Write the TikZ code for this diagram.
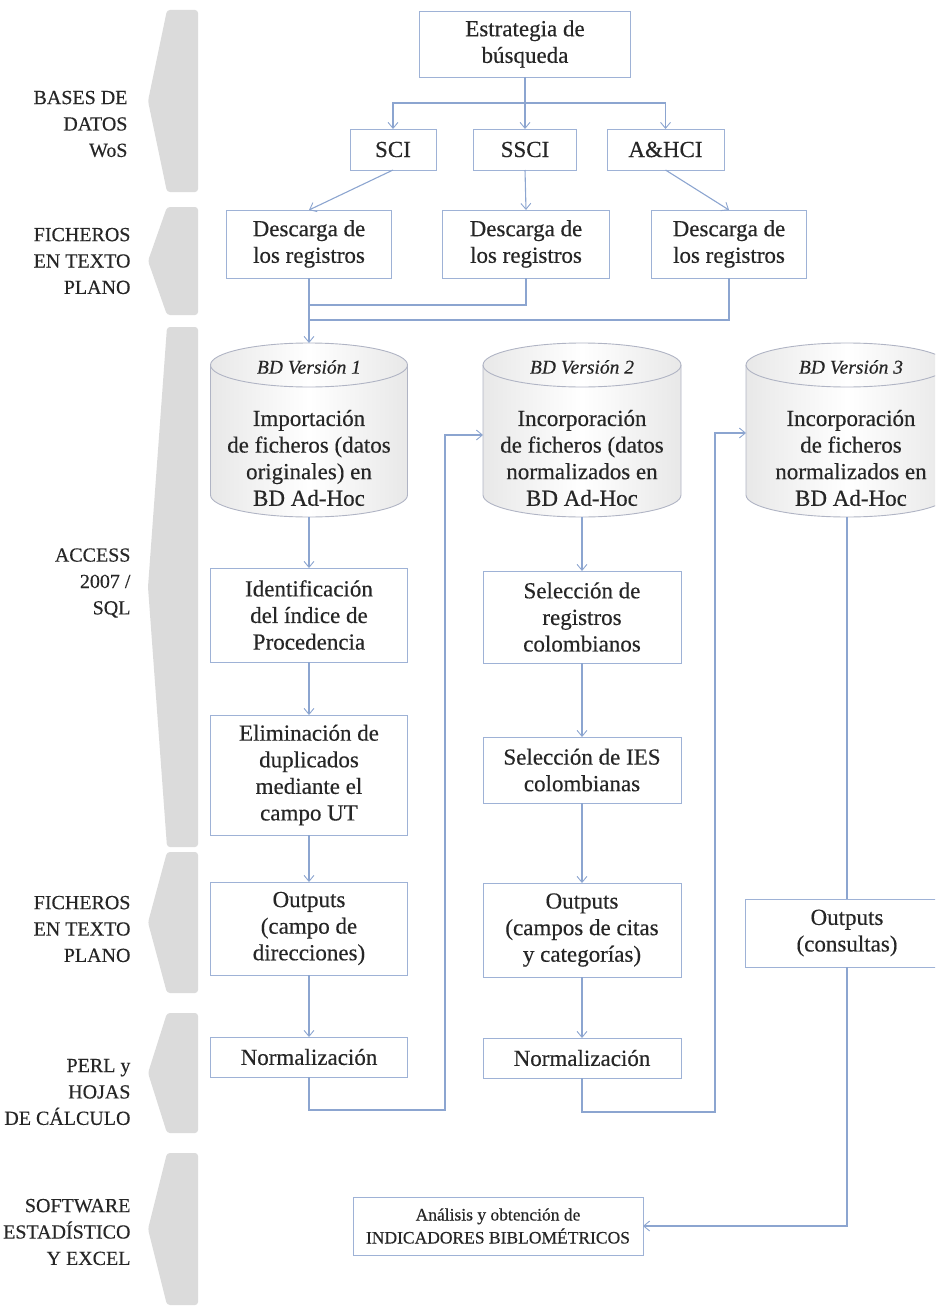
\documentclass[tikz,border=0pt]{standalone}
\usepackage{fontspec}
\setmainfont{Liberation Serif}[FakeBold=0.35]
\usetikzlibrary{arrows.meta}

\definecolor{boxline}{RGB}{158,178,214}
\definecolor{wire}{RGB}{140,165,208}
\definecolor{band}{RGB}{219,219,219}
\definecolor{drum}{RGB}{176,180,196}
\definecolor{ink}{RGB}{38,38,38}

\newcommand\bodysize{\fontsize{23}{26.6}\selectfont}
\newcommand\sidesize{\fontsize{20}{26.4}\selectfont}
\newcommand\tagsize{\fontsize{19.5}{24}\selectfont\itshape}
\newcommand\smallsize{\fontsize{17.5}{23}\selectfont}

\tikzset{
  box/.style={draw=boxline, line width=0.9pt, fill=white, align=center,
    inner sep=0pt, outer sep=0pt, font=\bodysize, text=ink},
  holder/.style={inner sep=0pt, outer sep=0pt},
  wire/.style={draw=wire, line width=1.1pt},
  flow/.style={wire, -{Straight Barb[length=6pt,width=10pt,line width=0.9pt]}},
  side/.style={align=right, anchor=east, font=\sidesize, text=ink},
  chev/.style={fill=band, draw=none, rounded corners=3pt},
  drumline/.style={draw=drum, line width=0.9pt},
  drumfill/.style={left color=black!9, right color=black!9, middle color=white},
  inner/.style={align=center, font=\bodysize, text=ink, inner sep=0pt},
  tag/.style={font=\tagsize, text=ink, inner sep=0pt},
}

\begin{document}
\begin{tikzpicture}[x=1pt, y=-1pt]
\useasboundingbox (0,0) rectangle (935,1311);
\clip (0,0) rectangle (935,1311);

% --- grey chevron band on the left ---
\foreach \t/\b in {10/192, 207/315, 327/847, 852/993, 1013/1133, 1153/1305}{
  \path[chev] (198,\t) -- (167,\t) -- (148,{(\t+\b)/2}) -- (167,\b) -- (198,\b) -- cycle;
}

% --- stage labels ---
\node[side] (s1) at (131,124) {BASES DE\\DATOS\\WoS};
\node[side] (s2) at (134,261) {FICHEROS\\EN TEXTO\\PLANO};
\node[side] (s3) at (134,583) {ACCESS\\2007 /\\SQL};
\node[side] (s4) at (134,929) {FICHEROS\\EN TEXTO\\PLANO};
\node[side] (s5) at (134,1092) {PERL y\\HOJAS\\DE CÁLCULO};
\node[side] (s6) at (134,1232) {SOFTWARE\\ESTADÍSTICO\\Y EXCEL};

% --- search and databases ---
\node[box, minimum width=211pt, minimum height=66pt] (est) at (525,44) {Estrategia de\\búsqueda};
\node[box, minimum width=86pt, minimum height=41pt] (sci) at (393,149.5) {SCI};
\node[box, minimum width=103pt, minimum height=41pt] (ssci) at (525,149.5) {SSCI};
\node[box, minimum width=117pt, minimum height=41pt] (ahci) at (665.5,149.5) {A\&HCI};

\node[box, minimum width=165pt, minimum height=68pt] (d1) at (309,244) {Descarga de\\los registros};
\node[box, minimum width=167pt, minimum height=68pt] (d2) at (526,244) {Descarga de\\los registros};
\node[box, minimum width=155pt, minimum height=68pt] (d3) at (729,244) {Descarga de\\los registros};

% --- database cylinders ---
\node[holder, minimum width=197pt, minimum height=174pt] (cyl1) at (309,430) {};
\node[holder, minimum width=198pt, minimum height=174pt] (cyl2) at (582,430) {};
\node[holder, minimum width=202pt, minimum height=174pt] (cyl3) at (847,430) {};

\foreach \c/\r in {cyl1/98.5, cyl2/99, cyl3/101}{
  \path[drumline, drumfill]
    ([yshift=-22pt]\c.north west) -- ([yshift=22pt]\c.south west)
    arc[start angle=180, end angle=360, x radius=\r pt, y radius=22pt]
    -- ([yshift=-22pt]\c.north east)
    arc[start angle=0, end angle=180, x radius=\r pt, y radius=22pt] -- cycle;
  \path[drumline]
    ([yshift=-22pt]\c.north west)
    arc[start angle=180, end angle=360, x radius=\r pt, y radius=22pt];
}

\node[tag] (t1) at (309,367) {BD Versión 1};
\node[tag] (t2) at (582,367) {BD Versión 2};
\node[tag] (t3) at (851,367) {BD Versión 3};
\node[inner] (b1) at (309,458) {Importación\\de ficheros (datos\\originales) en\\BD Ad-Hoc};
\node[inner] (b2) at (582,458) {Incorporación\\de ficheros (datos\\normalizados en\\BD Ad-Hoc};
\node[inner] (b3) at (851,458) {Incorporación\\de ficheros\\normalizados en\\BD Ad-Hoc};

% --- first processing column ---
\node[box, minimum width=197pt, minimum height=94pt] (id) at (309,615) {Identificación\\del índice de\\Procedencia};
\node[box, minimum width=197pt, minimum height=120pt] (elim) at (309,775) {Eliminación de\\duplicados\\mediante el\\campo UT};
\node[box, minimum width=197pt, minimum height=93pt] (out1) at (309,928.5) {Outputs\\(campo de\\direcciones)};
\node[box, minimum width=197pt, minimum height=40pt] (norm1) at (309,1057) {Normalización};

% --- second processing column ---
\node[box, minimum width=198pt, minimum height=92pt] (selreg) at (582,617) {Selección de\\registros\\colombianos};
\node[box, minimum width=198pt, minimum height=66pt] (selies) at (582,770) {Selección de IES\\colombianas};
\node[box, minimum width=198pt, minimum height=94pt] (out2) at (582,930) {Outputs\\(campos de citas\\y categorías)};
\node[box, minimum width=198pt, minimum height=40pt] (norm2) at (582,1058) {Normalización};

% --- third column and final analysis ---
\node[box, minimum width=204pt, minimum height=68pt] (out3) at (847,933) {Outputs\\(consultas)};
\node[box, minimum width=290pt, minimum height=58pt, font=\smallsize] (anal) at (498,1226) {Análisis y obtención de\\INDICADORES BIBLOMÉTRICOS};

% --- connectors ---
\coordinate (split) at (est.south |- 0,103);
\draw[flow] (est.south) -- (ssci.north);
\draw[flow] (split) -| (sci.north);
\draw[flow] (split) -| (ahci.north);

\draw[flow] (sci.south) -- (d1.north);
\draw[flow] (ssci.south) -- (d2.north);
\draw[flow] (ahci.south) -- (d3.north);

\draw[wire] (d2.south) |- (d1.south |- 0,305);
\draw[wire] (d3.south) |- (d1.south |- 0,320);
\draw[flow] (d1.south) -- (cyl1.north);

\draw[flow] (cyl1.south) -- (id.north);
\draw[flow] (id.south) -- (elim.north);
\draw[flow] (elim.south) -- (out1.north);
\draw[flow] (out1.south) -- (norm1.north);

\coordinate (back1) at (445,1110);
\draw[flow] (norm1.south) |- (back1) |- (cyl2.west |- 0,435);

\draw[flow] (cyl2.south) -- (selreg.north);
\draw[flow] (selreg.south) -- (selies.north);
\draw[flow] (selies.south) -- (out2.north);
\draw[flow] (out2.south) -- (norm2.north);

\coordinate (back2) at (715,1112);
\draw[flow] (norm2.south) |- (back2) |- (cyl3.west |- 0,433);

\draw[wire] (cyl3.south) -- (out3.north);
\draw[flow] (out3.south) |- (anal.east);
\end{tikzpicture}
\end{document}
